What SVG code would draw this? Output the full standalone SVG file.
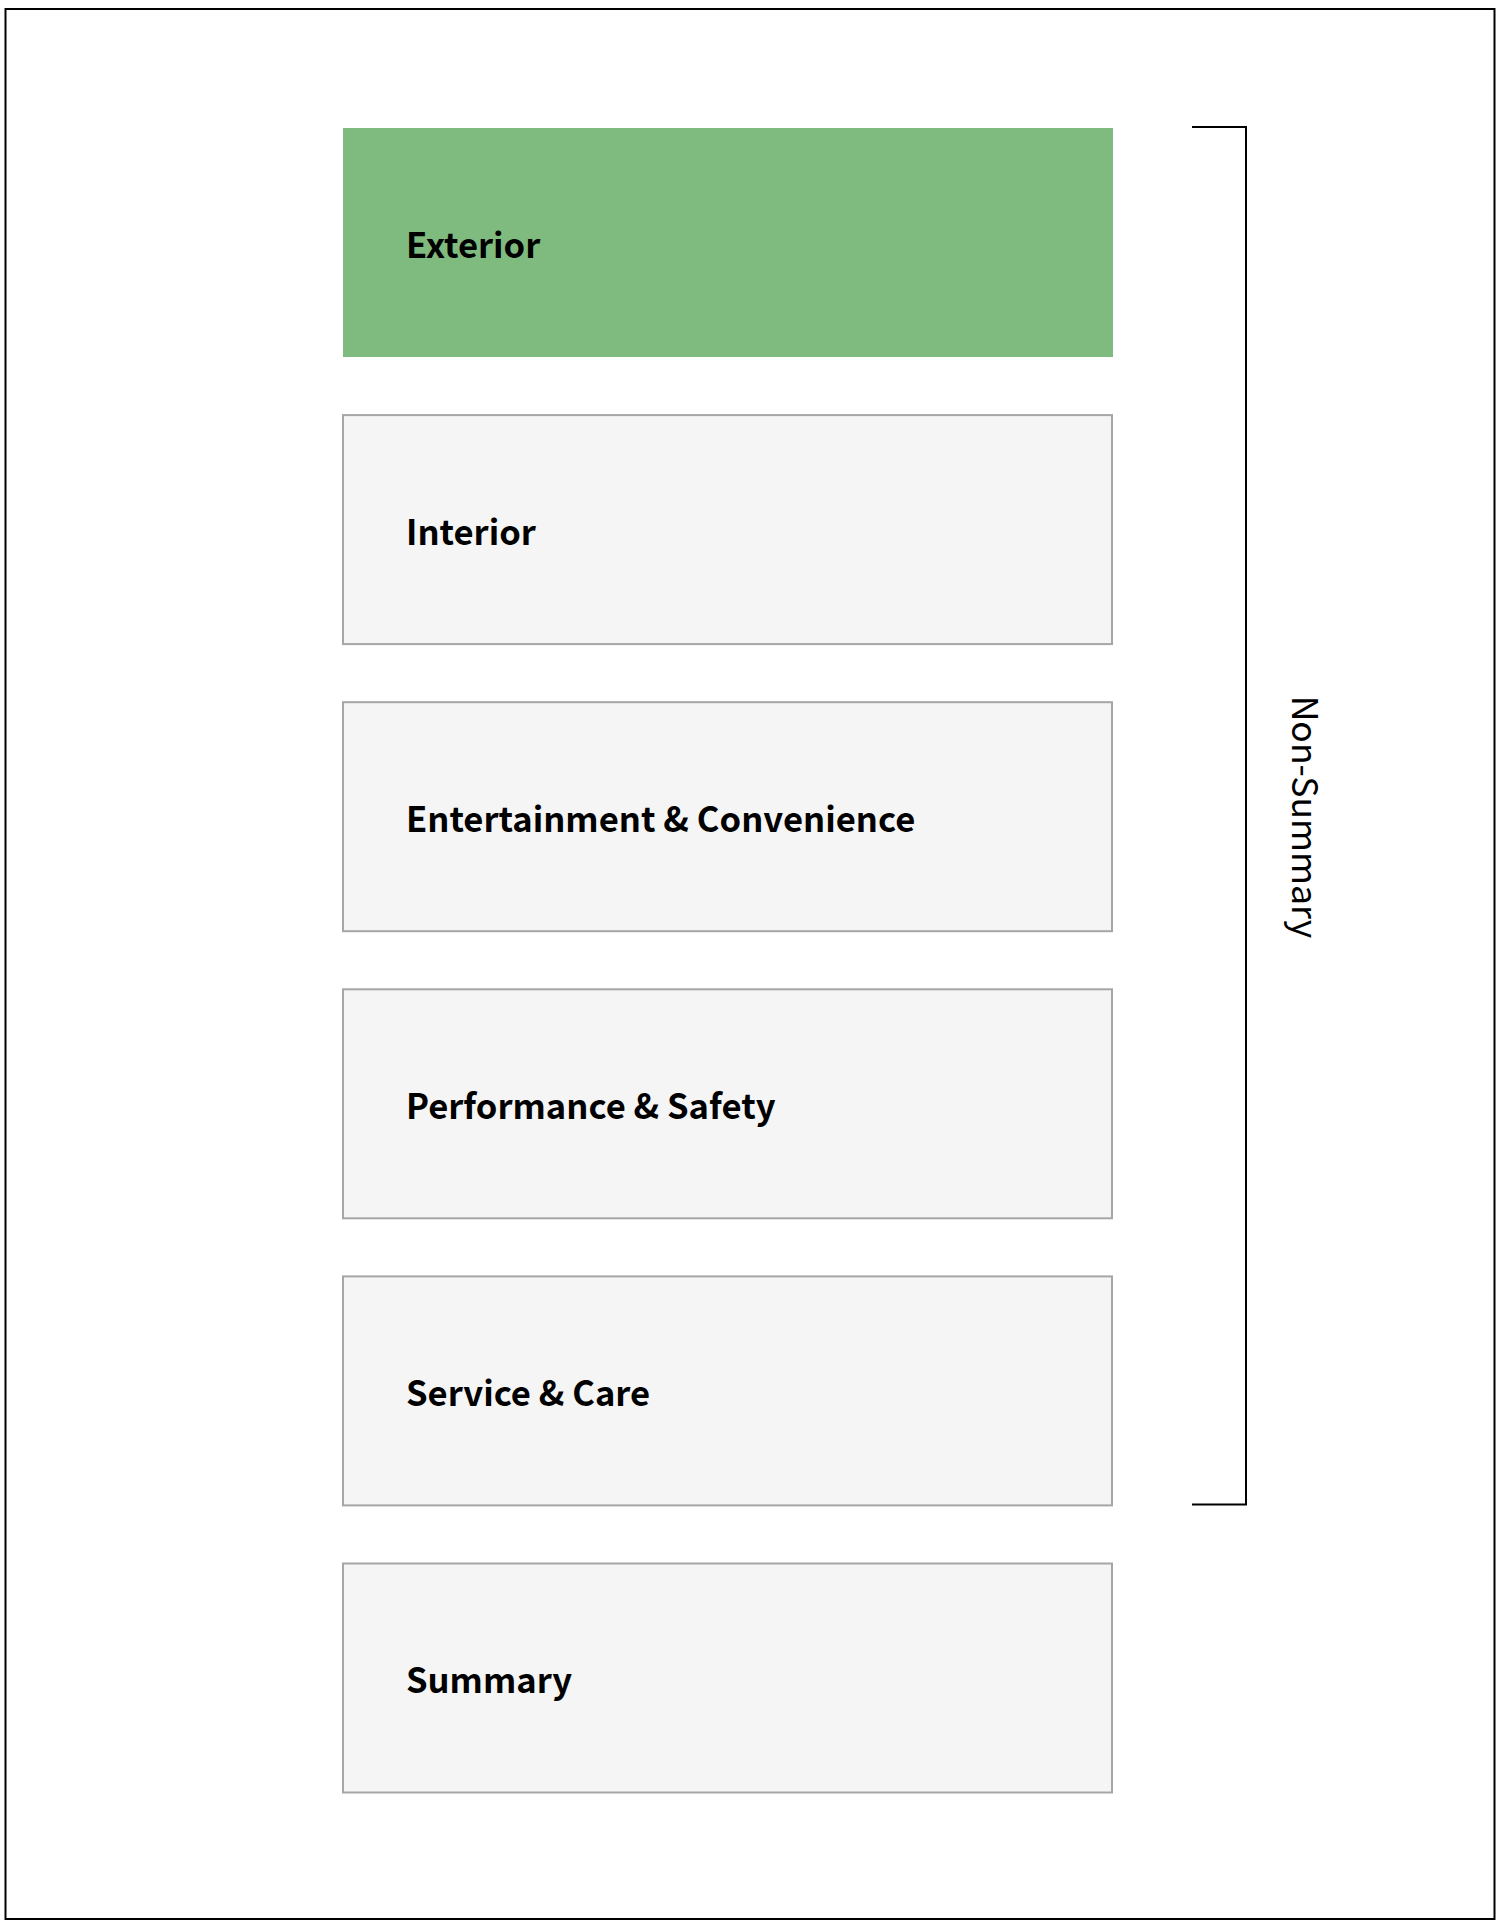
<svg xmlns="http://www.w3.org/2000/svg" width="1500" height="1929" viewBox="0 0 1500 1929">
  <style>
    .box { fill: #f5f5f5; stroke: #a6a6a6; stroke-width: 2; }
    .hl { fill: #7fbb7f; stroke: none; }
    .lbl { font-family: "Noto Sans CJK SC", "Noto Sans", "Liberation Sans", sans-serif; font-weight: 700; font-size: 34.6px; fill: #000; }
    .side { font-family: "Noto Sans CJK SC", "Noto Sans", "Liberation Sans", sans-serif; font-weight: 400; font-size: 35.6px; fill: #000; }
    .line { fill: none; stroke: #000; stroke-width: 2; }
  </style>
  <rect x="0" y="0" width="1500" height="1929" fill="#ffffff"/>
  <rect id="frame" x="5.5" y="9" width="1489" height="1910" class="line"/>
  <g id="node-exterior">
    <rect x="343" y="128" width="770" height="229" class="hl"/>
    <text x="406" y="257.5" class="lbl">Exterior</text>
  </g>
  <g id="node-interior">
    <rect x="343" y="415.1" width="769" height="229" class="box"/>
    <text x="406" y="544.6" class="lbl">Interior</text>
  </g>
  <g id="node-entertainment">
    <rect x="343" y="702.2" width="769" height="229" class="box"/>
    <text x="406" y="831.7" class="lbl">Entertainment &amp; Convenience</text>
  </g>
  <g id="node-performance">
    <rect x="343" y="989.3" width="769" height="229" class="box"/>
    <text x="406" y="1118.8" class="lbl">Performance &amp; Safety</text>
  </g>
  <g id="node-service">
    <rect x="343" y="1276.4" width="769" height="229" class="box"/>
    <text x="406" y="1405.9" class="lbl">Service &amp; Care</text>
  </g>
  <g id="node-summary">
    <rect x="343" y="1563.5" width="769" height="229" class="box"/>
    <text x="406" y="1693" class="lbl">Summary</text>
  </g>
  <g id="connectors">
    <path d="M1192 127 H1246 V1504.5 H1192" class="line"/>
  </g>
  <g id="bracket-label">
    <text transform="translate(1292,817) rotate(90)" text-anchor="middle" class="side">Non-Summary</text>
  </g>
</svg>
